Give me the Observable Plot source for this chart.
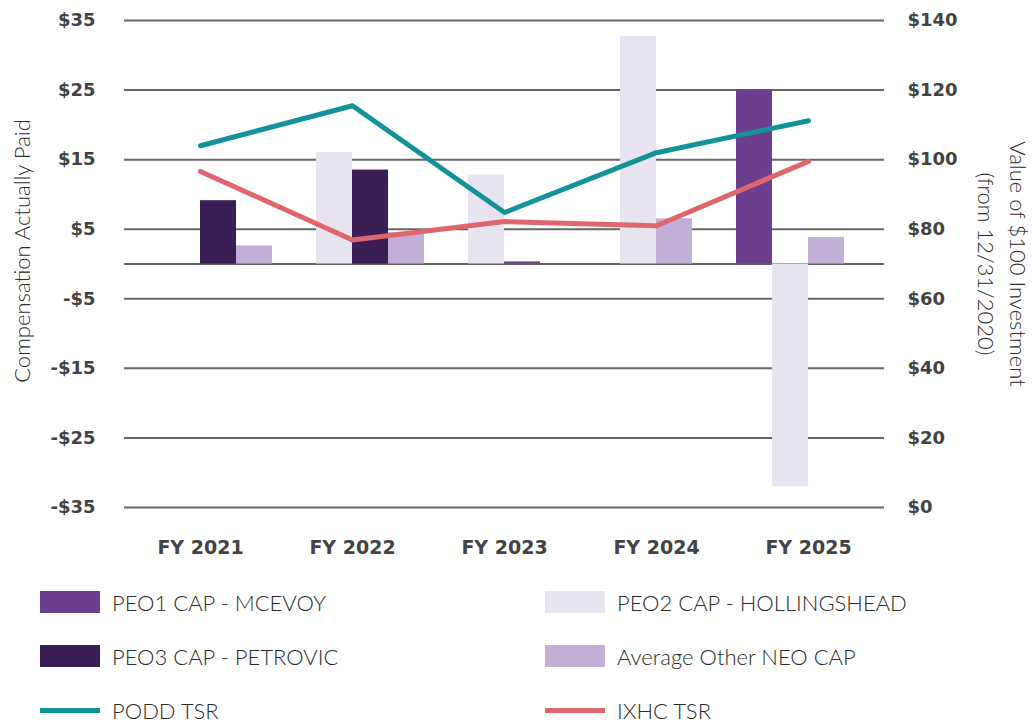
<!DOCTYPE html>
<html>
<head>
<meta charset="utf-8">
<script src="https://cdn.jsdelivr.net/npm/d3@7"></script>
<script src="https://cdn.jsdelivr.net/npm/@observablehq/plot@0.6"></script>
<style>
  html, body { margin: 0; padding: 0; background: #fff; }
  #chart { width: 1034px; }
  .legend { position: relative; width: 1034px; height: 152px; font-family: Lato, "Open Sans", sans-serif; font-weight: 300; font-size: 22px; color: #2b2b2b; }
  .item { position: absolute; display: flex; align-items: center; height: 30px; white-space: nowrap; }
  .sw { width: 60px; height: 22px; margin-right: 12px; }
  .ln { width: 60px; height: 5px; margin-right: 12px; }
</style>
</head>
<body>
<div id="chart"></div>
<div class="legend" id="legend"></div>
<script>
// ---- data ----
const years = ["FY 2021", "FY 2022", "FY 2023", "FY 2024", "FY 2025"];
const seriesNames = ["PEO1 CAP - MCEVOY", "PEO2 CAP - HOLLINGSHEAD", "PEO3 CAP - PETROVIC", "Average Other NEO CAP"];
const peo1Cap = [null, null, 0.3, null, 25.0];
const peo2Cap = [null, 16.0, 12.8, 32.7, -32.0];
const peo3Cap = [9.1, 13.5, null, null, null];
const avgNeoCap = [2.6, 4.5, null, 6.5, 3.8];
// order of bars inside each year's cluster (four cluster positions)
const clusterOrder = [
  [null, null, "PEO3", "AVG"],
  [null, "PEO2", "PEO3", "AVG"],
  [null, "PEO2", "PEO1", null],
  [null, "PEO2", "AVG", null],
  ["PEO1", "PEO2", "AVG", null]
];
const poddTsr = [104.0, 115.5, 84.8, 102.0, 111.2];
const ixhcTsr = [96.6, 76.9, 82.2, 81.0, 99.5];
const leftTicks = [-35, -25, -15, -5, 5, 15, 25, 35];
const rightTicks = [0, 20, 40, 60, 80, 100, 120, 140];

// ---- build ----
const colors = { PEO1: "#6c3f8e", PEO2: "#e8e3f0", PEO3: "#3a1f56", AVG: "#c2afd8" };
const valuesByKey = { PEO1: peo1Cap, PEO2: peo2Cap, PEO3: peo3Cap, AVG: avgNeoCap };
const slotW = 36 / 152;
const bars = [];
clusterOrder.forEach((slots, i) => {
  slots.forEach((key, k) => {
    if (!key) return;
    const v = valuesByKey[key][i];
    if (v == null) return;
    bars.push({ i, key, value: v, x1: i - 2 * slotW + k * slotW, x2: i - 2 * slotW + (k + 1) * slotW });
  });
});
// right axis ($0..$140) mapped onto left axis (-35..35)
const toLeft = v => v / 2 - 35;
const podd = poddTsr.map((v, i) => ({ i, y: toLeft(v) }));
const ixhc = ixhcTsr.map((v, i) => ({ i, y: toLeft(v) }));
const fmtLeft = d => (d < 0 ? "-$" + Math.abs(d) : "$" + d);

const tickFont = { fontFamily: "DejaVu Sans", fontWeight: "bold", fontSize: 18, fill: "#434343" };
const titleFont = { fontFamily: "Lato", fontWeight: 300, fontSize: 22, fill: "#2b2b2b", textAnchor: "middle" };

const chart = Plot.plot({
  width: 1034,
  height: 570,
  marginLeft: 124,
  marginRight: 150,
  marginTop: 20,
  marginBottom: 63,
  style: { fontFamily: "DejaVu Sans", background: "#fff" },
  x: { type: "linear", domain: [-0.5, 4.5], axis: null },
  y: { domain: [-35, 35], axis: null },
  marks: [
    Plot.ruleY(leftTicks.concat([0]), { stroke: "#666666", strokeWidth: 2 }),
    Plot.rectY(bars, { x1: "x1", x2: "x2", y1: 0, y2: "value", fill: d => colors[d.key] }),
    Plot.line(podd, { x: "i", y: "y", stroke: "#12939a", strokeWidth: 5, strokeLinecap: "round", strokeLinejoin: "round" }),
    Plot.line(ixhc, { x: "i", y: "y", stroke: "#e0666e", strokeWidth: 5, strokeLinecap: "round", strokeLinejoin: "round" }),
    Plot.axisY({ anchor: "left", ticks: leftTicks, tickFormat: fmtLeft, tickSize: 0, tickPadding: 29, label: null, ...tickFont }),
    Plot.axisY({ anchor: "right", ticks: rightTicks.map(toLeft), tickFormat: d => "$" + Math.round((d + 35) * 2), tickSize: 0, tickPadding: 23, label: null, ...tickFont }),
    Plot.axisX({ anchor: "bottom", ticks: years.map((y, i) => i), tickFormat: i => years[i], tickSize: 0, tickPadding: 33, label: null, ...tickFont, fontSize: 19 }),
    Plot.text(["Compensation Actually Paid"], { frameAnchor: "left", dx: -102, dy: -13, rotate: -90, ...titleFont }),
    Plot.text(["Value of $100 Investment"], { frameAnchor: "right", dx: 133, dy: 0, rotate: 90, ...titleFont }),
    Plot.text(["(from 12/31/2020)"], { frameAnchor: "right", dx: 101, dy: 0, rotate: 90, ...titleFont })
  ]
});
document.getElementById("chart").appendChild(chart);

// ---- legend ----
const legendItems = [
  { label: seriesNames[0], color: colors.PEO1, kind: "sw", col: 0, row: 0 },
  { label: seriesNames[1], color: colors.PEO2, kind: "sw", col: 1, row: 0 },
  { label: seriesNames[2], color: colors.PEO3, kind: "sw", col: 0, row: 1 },
  { label: seriesNames[3], color: colors.AVG, kind: "sw", col: 1, row: 1 },
  { label: "PODD TSR", color: "#12939a", kind: "ln", col: 0, row: 2 },
  { label: "IXHC TSR", color: "#e0666e", kind: "ln", col: 1, row: 2 }
];
const leg = document.getElementById("legend");
legendItems.forEach(it => {
  const d = document.createElement("div");
  d.className = "item";
  d.style.left = (it.col ? 545 : 40) + "px";
  d.style.top = (17 + it.row * 54) + "px";
  const s = document.createElement("span");
  s.className = it.kind;
  s.style.background = it.color;
  const t = document.createElement("span");
  t.textContent = it.label;
  d.appendChild(s); d.appendChild(t);
  leg.appendChild(d);
});
</script>
</body>
</html>
